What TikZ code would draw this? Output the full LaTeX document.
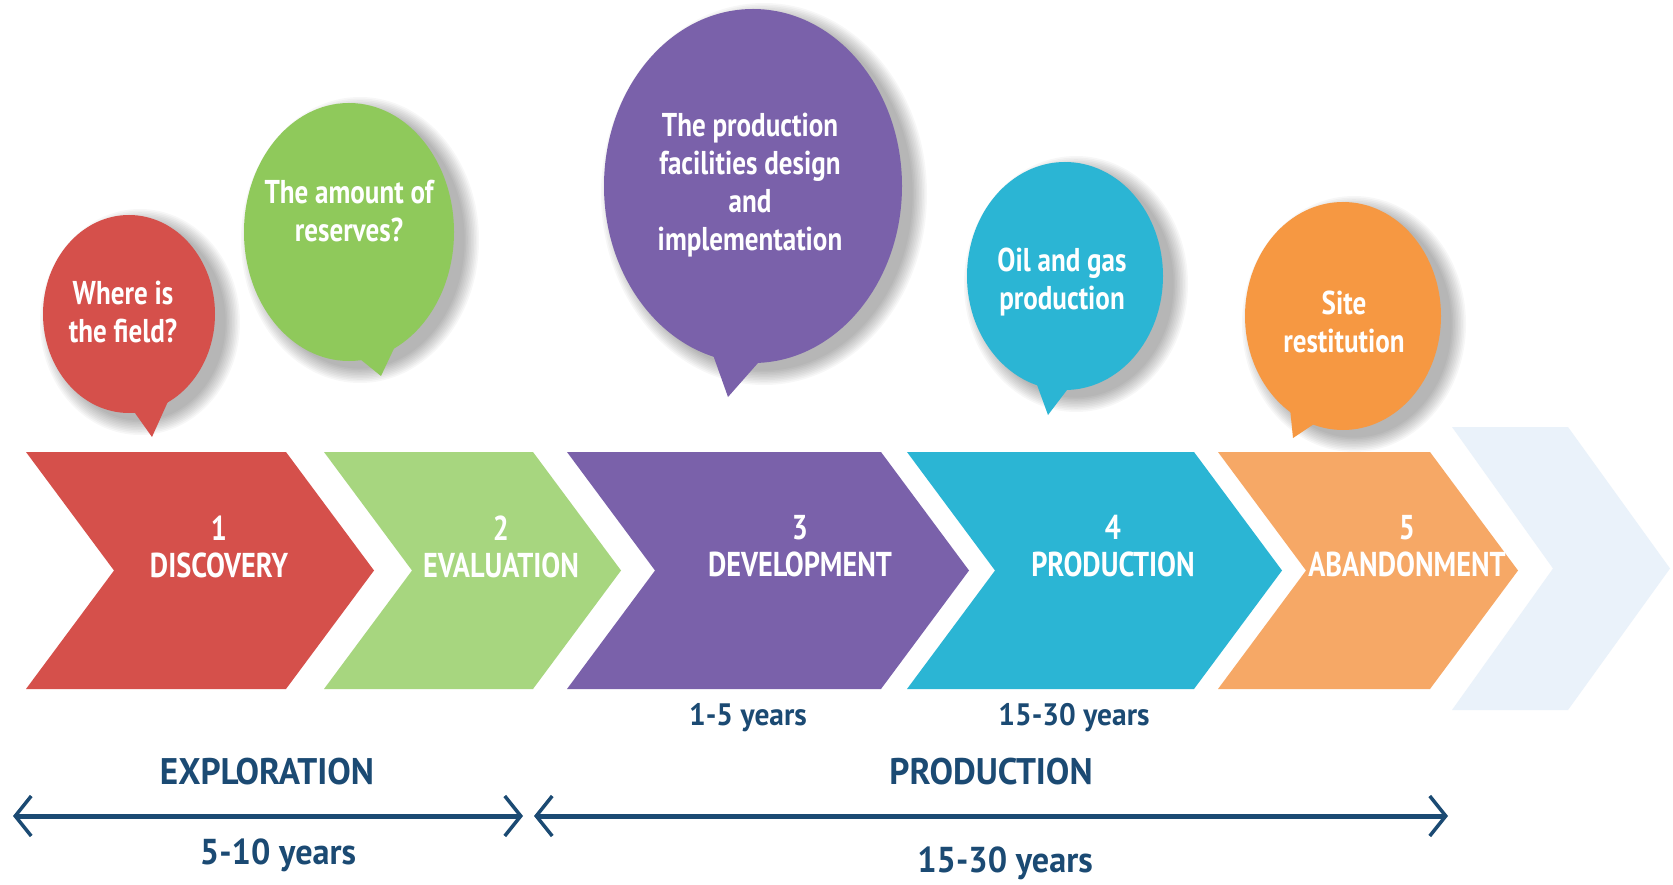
\documentclass[tikz,border=0pt]{standalone}
\usepackage{fontspec}
\setmainfont{PT Sans}[FakeStretch=0.82]
\newfontfamily\widefont{PT Sans}[FakeStretch=0.95]
\usetikzlibrary{arrows.meta}
\definecolor{cred}{HTML}{D5504B}
\definecolor{cgreenA}{HTML}{A7D67F}
\definecolor{cgreenB}{HTML}{8FC95B}
\definecolor{cpurple}{HTML}{7A61AA}
\definecolor{ccyan}{HTML}{2BB5D4}
\definecolor{corangeA}{HTML}{F6A866}
\definecolor{corangeB}{HTML}{F69842}
\definecolor{clight}{HTML}{EAF2FA}
\definecolor{cnavy}{HTML}{1B4A73}
\newcommand\chevron[3]{\fill[#1] (#2,452) -- (#3,452) -- ({#3+88},570.5) -- (#3,689) -- (#2,689) -- ({#2+88},570.5) -- cycle;}
\newcommand\bubble[6]{%
  \foreach \k in {0,...,9}{\fill[black,opacity=0.032] ({#2+11},{#3+8}) ellipse [x radius={#4+14-1.6*\k}, y radius={#5+14-1.6*\k}];}
  \fill[#1] (#2,#3) ellipse [x radius=#4, y radius=#5];
  \fill[#1] #6;}
\tikzset{
  chevtext/.style={text=white, align=center, font=\bfseries\fontsize{34.5}{37}\selectfont, inner sep=0pt},
  bubtext/.style={text=white, align=center, font=\bfseries\fontsize{33}{38}\selectfont, inner sep=0pt},
  navytext/.style={text=cnavy, font=\widefont\bfseries\fontsize{#1}{#1}\selectfont, inner sep=0pt},
  navyarrow/.style={draw=cnavy, line width=5pt, {Straight Barb[length=16pt,width=40pt,line width=3.5pt]}-{Straight Barb[length=16pt,width=40pt,line width=3.5pt]}}
}
\begin{document}
\begin{tikzpicture}[x=1pt,y=-1pt]
\useasboundingbox (0,0) rectangle (1673,885);
\fill[white] (0,0) rectangle (1673,885);
% chevrons
\chevron{cred}{26}{286}
\chevron{cgreenA}{324}{533}
\chevron{cpurple}{567}{881}
\chevron{ccyan}{907}{1194}
\chevron{corangeA}{1218}{1430}
\fill[clight] (1452,427) -- (1568,427) -- (1670,568.5) -- (1568,710) -- (1452,710) -- (1553,568.5) -- cycle;
\node[chevtext] (c1) at (219,546.5) {1\\DISCOVERY};
\node[chevtext] (c2) at (501,546.5) {2\\EVALUATION};
\node[chevtext] (c3) at (800,546.5) {3\\DEVELOPMENT};
\node[chevtext] (c4) at (1113,546.5) {4\\PRODUCTION};
\node[chevtext] (c5) at (1407,546.5) {5\\ABANDONMENT};
% bubbles
\bubble{cred}{129}{314}{86}{99}{(130,406) -- (152,437) -- (170,397) -- cycle}
\bubble{cgreenB}{349}{232}{105}{129}{(355,355) -- (381,376) -- (398,340) -- cycle}
\bubble{cpurple}{753}{186}{149}{177}{(712,352) -- (728,397) -- (765,355) -- cycle}
\bubble{ccyan}{1065}{276}{98}{114}{(1036,382) -- (1048,415) -- (1070,386) -- cycle}
\bubble{corangeB}{1343}{316}{98}{114}{(1290,408) -- (1293,438) -- (1320,420) -- cycle}
\node[bubtext] (b1) at (123,312) {Where is\\the field?};
\node[bubtext] (b2) at (349,211) {The amount of\\reserves?};
\node[bubtext] (b3) at (750,185) {The production\\facilities design\\and\\implementation};
\node[bubtext] (b4) at (1062,282) {Oil and gas\\production};
\node[bubtext] (b5) at (1344,322) {Site\\restitution};
% bottom
\node[navytext=31] (y1) at (748,718) {1-5 years};
\node[navytext=31] (y2) at (1074,718) {15-30 years};
\node[navytext=37] (ex) at (267,772) {EXPLORATION};
\node[navytext=37] (pr) at (991,772) {PRODUCTION};
\coordinate (a1) at (13,816);
\coordinate (a2) at (523,816);
\coordinate (a3) at (534,816);
\coordinate (a4) at (1448,816);
\draw[navyarrow] (a1) -- (a2);
\draw[navyarrow] (a3) -- (a4);
\node[navytext=36] (y3) at (278,855) {5-10 years};
\node[navytext=36] (y4) at (1005,863) {15-30 years};
\end{tikzpicture}
\end{document}
